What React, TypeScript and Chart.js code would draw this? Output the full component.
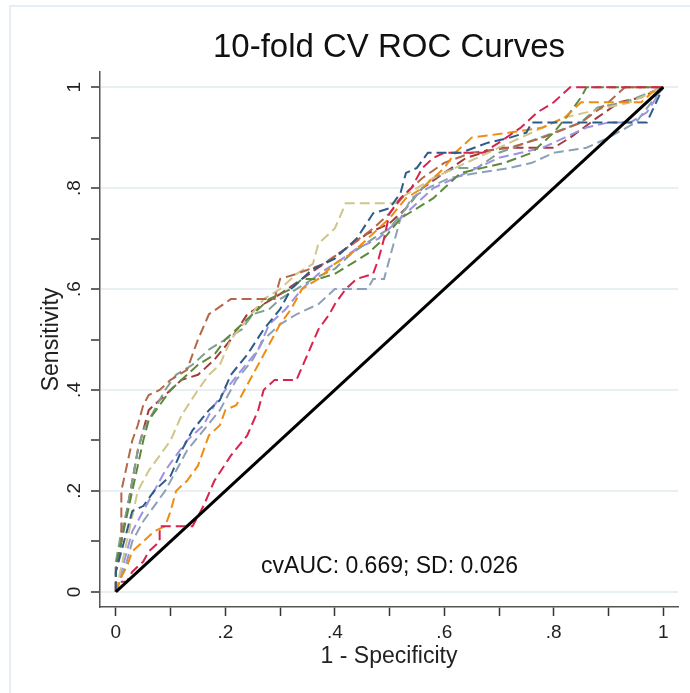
import React, { useEffect, useRef } from 'react';
import { Chart, registerables } from 'chart.js';

Chart.register(...registerables);

const titleText = '10-fold CV ROC Curves';
const xTitle = '1 - Specificity';
const yTitle = 'Sensitivity';
const annotationText = 'cvAUC: 0.669; SD: 0.026';

const majorTickValues = [0, 0.2, 0.4, 0.6, 0.8, 1];
const majorTickLabels = ['0', '.2', '.4', '.6', '.8', '1'];
const minorTickValues = [0.1, 0.3, 0.5, 0.7, 0.9];

const referenceLine: [number, number][] = [[0, 0], [1, 1]];

const fold1: [number, number][] = [[0,0],[0,0.04],[0.01,0.08],[0.02,0.12],[0.03,0.16],[0.05,0.17],[0.07,0.2],[0.1,0.23],[0.12,0.28],[0.14,0.32],[0.17,0.36],[0.19,0.38],[0.21,0.43],[0.24,0.47],[0.27,0.52],[0.3,0.56],[0.32,0.6],[0.34,0.62],[0.36,0.64],[0.4,0.66],[0.44,0.7],[0.47,0.75],[0.5,0.76],[0.52,0.79],[0.53,0.83],[0.55,0.84],[0.57,0.87],[0.63,0.87],[0.68,0.89],[0.72,0.9],[0.75,0.91],[0.76,0.93],[0.97,0.93],[1,1]];
const fold2: [number, number][] = [[0,0],[0,0.02],[0.02,0.02],[0.03,0.04],[0.05,0.06],[0.06,0.08],[0.08,0.1],[0.08,0.13],[0.13,0.13],[0.14,0.13],[0.16,0.17],[0.18,0.22],[0.21,0.27],[0.24,0.31],[0.26,0.36],[0.27,0.4],[0.29,0.42],[0.33,0.42],[0.35,0.47],[0.37,0.52],[0.39,0.55],[0.4,0.57],[0.42,0.6],[0.44,0.62],[0.47,0.63],[0.48,0.66],[0.49,0.7],[0.5,0.75],[0.52,0.78],[0.54,0.8],[0.56,0.84],[0.58,0.86],[0.6,0.87],[0.67,0.87],[0.7,0.89],[0.74,0.92],[0.77,0.95],[0.8,0.97],[0.83,1],[1,1]];
const fold3: [number, number][] = [[0,0],[0.01,0.03],[0.02,0.05],[0.03,0.08],[0.05,0.1],[0.07,0.12],[0.09,0.13],[0.1,0.16],[0.11,0.2],[0.13,0.22],[0.15,0.25],[0.16,0.28],[0.17,0.31],[0.19,0.33],[0.2,0.36],[0.22,0.37],[0.24,0.41],[0.26,0.45],[0.28,0.49],[0.3,0.53],[0.32,0.56],[0.34,0.6],[0.37,0.62],[0.4,0.65],[0.43,0.67],[0.46,0.7],[0.5,0.74],[0.53,0.78],[0.56,0.8],[0.6,0.84],[0.62,0.87],[0.65,0.9],[0.72,0.91],[0.78,0.92],[0.82,0.94],[0.85,0.97],[0.96,0.97],[0.98,0.99],[1,1]];
const fold4: [number, number][] = [[0,0],[0,0.05],[0.01,0.1],[0.02,0.15],[0.03,0.2],[0.04,0.25],[0.05,0.3],[0.06,0.34],[0.08,0.37],[0.1,0.4],[0.13,0.43],[0.15,0.45],[0.18,0.47],[0.2,0.5],[0.23,0.53],[0.26,0.56],[0.28,0.58],[0.32,0.6],[0.34,0.62],[0.37,0.62],[0.4,0.63],[0.43,0.65],[0.46,0.67],[0.49,0.7],[0.52,0.74],[0.55,0.76],[0.58,0.78],[0.6,0.8],[0.63,0.83],[0.67,0.84],[0.71,0.85],[0.76,0.87],[0.8,0.91],[0.83,0.95],[0.85,0.98],[0.86,1],[1,1]];
const fold5: [number, number][] = [[0,0],[0,0.05],[0.01,0.1],[0.01,0.2],[0.02,0.25],[0.03,0.3],[0.04,0.33],[0.05,0.37],[0.06,0.39],[0.08,0.4],[0.1,0.42],[0.13,0.44],[0.15,0.5],[0.17,0.55],[0.21,0.58],[0.29,0.58],[0.3,0.62],[0.33,0.63],[0.38,0.65],[0.42,0.68],[0.47,0.72],[0.5,0.75],[0.53,0.79],[0.56,0.82],[0.6,0.85],[0.65,0.87],[0.72,0.88],[0.78,0.9],[0.85,0.93],[0.9,0.97],[0.93,1],[1,1]];
const fold6: [number, number][] = [[0,0],[0.01,0.05],[0.02,0.1],[0.03,0.15],[0.04,0.2],[0.06,0.24],[0.08,0.27],[0.1,0.3],[0.12,0.35],[0.15,0.4],[0.17,0.43],[0.19,0.45],[0.21,0.5],[0.24,0.54],[0.27,0.58],[0.3,0.6],[0.33,0.63],[0.36,0.65],[0.37,0.69],[0.4,0.72],[0.42,0.77],[0.51,0.77],[0.52,0.78],[0.55,0.8],[0.58,0.82],[0.62,0.84],[0.66,0.86],[0.7,0.88],[0.74,0.9],[0.78,0.92],[0.82,0.94],[0.86,0.95],[0.9,0.96],[0.94,0.97],[1,1]];
const fold7: [number, number][] = [[0,0],[0.01,0.04],[0.02,0.08],[0.03,0.12],[0.05,0.16],[0.07,0.2],[0.09,0.24],[0.11,0.27],[0.13,0.3],[0.16,0.33],[0.18,0.37],[0.2,0.4],[0.23,0.44],[0.26,0.48],[0.28,0.53],[0.31,0.56],[0.34,0.6],[0.37,0.63],[0.4,0.65],[0.44,0.68],[0.48,0.7],[0.52,0.74],[0.55,0.77],[0.58,0.8],[0.62,0.82],[0.66,0.84],[0.7,0.86],[0.74,0.87],[0.78,0.88],[0.82,0.9],[0.86,0.92],[0.9,0.93],[0.94,0.93],[0.97,0.95],[1,1]];
const fold8: [number, number][] = [[0,0],[0.01,0.03],[0.02,0.06],[0.03,0.1],[0.05,0.14],[0.07,0.17],[0.09,0.2],[0.11,0.24],[0.13,0.28],[0.16,0.32],[0.19,0.36],[0.22,0.42],[0.25,0.46],[0.27,0.5],[0.3,0.53],[0.33,0.55],[0.37,0.57],[0.4,0.6],[0.46,0.6],[0.47,0.62],[0.49,0.62],[0.5,0.66],[0.51,0.7],[0.52,0.74],[0.54,0.78],[0.57,0.8],[0.61,0.82],[0.66,0.83],[0.72,0.84],[0.76,0.85],[0.8,0.87],[0.86,0.88],[0.9,0.9],[0.95,0.93],[1,1]];
const fold9: [number, number][] = [[0,0],[0,0.06],[0.01,0.12],[0.02,0.16],[0.03,0.22],[0.04,0.28],[0.05,0.32],[0.07,0.36],[0.09,0.4],[0.11,0.43],[0.14,0.45],[0.17,0.48],[0.2,0.5],[0.23,0.52],[0.25,0.55],[0.28,0.56],[0.3,0.58],[0.33,0.6],[0.36,0.62],[0.4,0.64],[0.43,0.67],[0.47,0.7],[0.5,0.72],[0.53,0.76],[0.56,0.8],[0.58,0.82],[0.62,0.84],[0.66,0.84],[0.7,0.87],[0.75,0.89],[0.8,0.91],[0.85,0.93],[0.88,0.96],[0.93,0.97],[1,1]];
const fold10: [number, number][] = [[0,0],[0,0.04],[0.01,0.1],[0.02,0.16],[0.03,0.22],[0.04,0.28],[0.05,0.32],[0.06,0.36],[0.08,0.38],[0.1,0.4],[0.12,0.42],[0.15,0.43],[0.18,0.46],[0.21,0.5],[0.24,0.55],[0.27,0.57],[0.3,0.59],[0.34,0.62],[0.38,0.65],[0.42,0.68],[0.46,0.71],[0.5,0.73],[0.53,0.76],[0.56,0.8],[0.6,0.83],[0.64,0.86],[0.7,0.88],[0.74,0.88],[0.8,0.88],[0.83,0.9],[0.88,0.94],[0.92,0.97],[0.96,0.98],[1,1]];

const folds = [fold1, fold2, fold3, fold4, fold5, fold6, fold7, fold8, fold9, fold10];
const foldColors = ['#2c5b8a', '#d8234d', '#ef8c12', '#5c8a3b', '#b3674b', '#cfc68a', '#9d92e2', '#8ca1b7', '#7fa192', '#a3393c'];

const FONT = '"Liberation Sans", Arial, Helvetica, sans-serif';

function isMajor(v: number) {
  return majorTickValues.some((m) => Math.abs(m - v) < 1e-6);
}
function labelFor(v: number) {
  const i = majorTickValues.findIndex((m) => Math.abs(m - v) < 1e-6);
  return i >= 0 ? majorTickLabels[i] : '';
}
function allTicks() {
  return [...majorTickValues, ...minorTickValues].sort((a, b) => a - b).map((value) => ({ value }));
}

const decorPlugin = {
  id: 'decor',
  beforeDraw(chart: any) {
    const { ctx } = chart;
    ctx.save();
    ctx.strokeStyle = '#e6eef3';
    ctx.lineWidth = 2;
    ctx.strokeRect(10, 6, 720, 720);
    ctx.restore();
  },
  afterDraw(chart: any) {
    const { ctx, chartArea, scales } = chart;
    ctx.save();
    ctx.fillStyle = '#111';
    ctx.textAlign = 'center';
    ctx.textBaseline = 'middle';
    ctx.font = `33px ${FONT}`;
    ctx.fillText(titleText, (chartArea.left + chartArea.right) / 2, chartArea.top - 24);
    ctx.font = `23px ${FONT}`;
    ctx.fillText(annotationText, scales.x.getPixelForValue(0.5), scales.y.getPixelForValue(0.05));
    ctx.restore();
  },
};

export default function App() {
  const ref = useRef<HTMLCanvasElement | null>(null);
  useEffect(() => {
    if (!ref.current) return;
    const datasets: any[] = [
      {
        data: referenceLine.map(([x, y]) => ({ x, y })),
        borderColor: '#000',
        borderWidth: 3,
        pointRadius: 0,
        fill: false,
      },
      ...folds.map((f, i) => ({
        data: f.map(([x, y]) => ({ x, y })),
        borderColor: foldColors[i],
        borderWidth: 2,
        borderDash: [10, 5],
        pointRadius: 0,
        fill: false,
        tension: 0,
      })),
    ];
    const chart = new Chart(ref.current, {
      type: 'line',
      data: { datasets },
      plugins: [decorPlugin],
      options: {
        animation: false,
        responsive: false,
        events: [],
        layout: { padding: { left: 0, top: 72, right: 12, bottom: 0 } },
        plugins: { legend: { display: false }, tooltip: { enabled: false }, title: { display: false } },
        scales: {
          x: {
            type: 'linear',
            min: -0.029,
            max: 1.027,
            afterBuildTicks: (s: any) => { s.ticks = allTicks(); },
            afterFit: (s: any) => { s.height = 86; },
            grid: { drawOnChartArea: false, drawTicks: true, tickLength: 9, tickColor: '#333', tickWidth: 1.5 },
            border: { display: true, color: '#555', width: 1.5 },
            ticks: {
              autoSkip: false,
              maxRotation: 0,
              minRotation: 0,
              padding: 5,
              color: '#222',
              font: { family: FONT, size: 19 },
              callback: (v: any) => labelFor(Number(v)),
            },
            title: { display: true, text: xTitle, color: '#222', font: { family: FONT, size: 23 }, padding: { top: 0, bottom: 23 } },
          },
          y: {
            type: 'linear',
            min: -0.03,
            max: 1.03,
            afterBuildTicks: (s: any) => { s.ticks = allTicks(); },
            afterFit: (s: any) => { s.width = 100; },
            grid: {
              drawTicks: true,
              tickLength: 9,
              tickColor: '#333',
              tickWidth: 1.5,
              lineWidth: 2,
              color: (c: any) => (c.tick && isMajor(c.tick.value) ? '#e8f0f3' : 'rgba(0,0,0,0)'),
            },
            border: { display: true, color: '#555', width: 1.5 },
            ticks: {
              autoSkip: false,
              minRotation: 90,
              maxRotation: 90,
              crossAlign: 'center',
              padding: 8,
              color: '#222',
              font: { family: FONT, size: 19 },
              callback: (v: any) => labelFor(Number(v)),
            },
            title: { display: true, text: yTitle, color: '#222', font: { family: FONT, size: 23 }, padding: { top: 38, bottom: 0 } },
          },
        },
      } as any,
    });
    return () => chart.destroy();
  }, []);
  return (
    <div style={{ position: 'fixed', left: 0, top: 0, width: 690, height: 693, background: '#fff' }}>
      <canvas ref={ref} width={690} height={693} style={{ display: 'block', width: 690, height: 693 }} />
    </div>
  );
}
